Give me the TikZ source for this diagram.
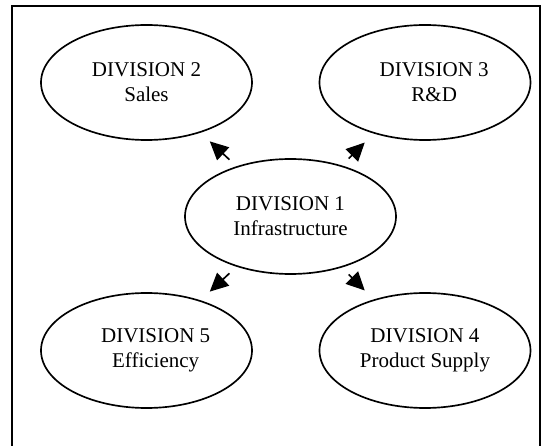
\documentclass[tikz,border=0pt]{standalone}
\usepackage{fontspec}
\setmainfont{Liberation Serif}
\usetikzlibrary{shapes.geometric,arrows.meta}

\begin{document}
\begin{tikzpicture}[x=0.6pt, y=-0.6pt, >={Triangle[length=11pt,width=10.5pt]}, link/.style={->, line width=1pt, shorten <=5.8pt, shorten >=7.6pt}, division/.style={ellipse, draw, line width=1pt, inner sep=0pt, minimum width=126.6pt, minimum height=69pt, align=center, font=\fontsize{12.6}{15}\selectfont}]

  \useasboundingbox (0,0) rectangle (547,446);
  % Frame, open at the bottom
  \draw[line width=1pt] (12.3,446) |- (540,6) -- (540,446);

  % Define divisions
  \node[division] (d1) at (290.5,216.5) {DIVISION 1\\Infrastructure};
  \node[division] (d2) at (146.5,82.5) {DIVISION 2\\Sales};
  \node[division] (d3) at (425,82.5) {\hspace*{11pt}DIVISION 3\\\hspace*{11pt}R\&D};
  \node[division] (d4) at (425,350.5) {DIVISION 4\\Product Supply};
  \node[division] (d5) at (146.5,350.5) {\hspace*{11pt}DIVISION 5\\\hspace*{11pt}Efficiency};

  % Define arrows out of division 1
  \path[link]
    (d1) edge (d2)
    (d1) edge (d3)
    (d1) edge (d4)
    (d1) edge (d5);
\end{tikzpicture}
\end{document}
